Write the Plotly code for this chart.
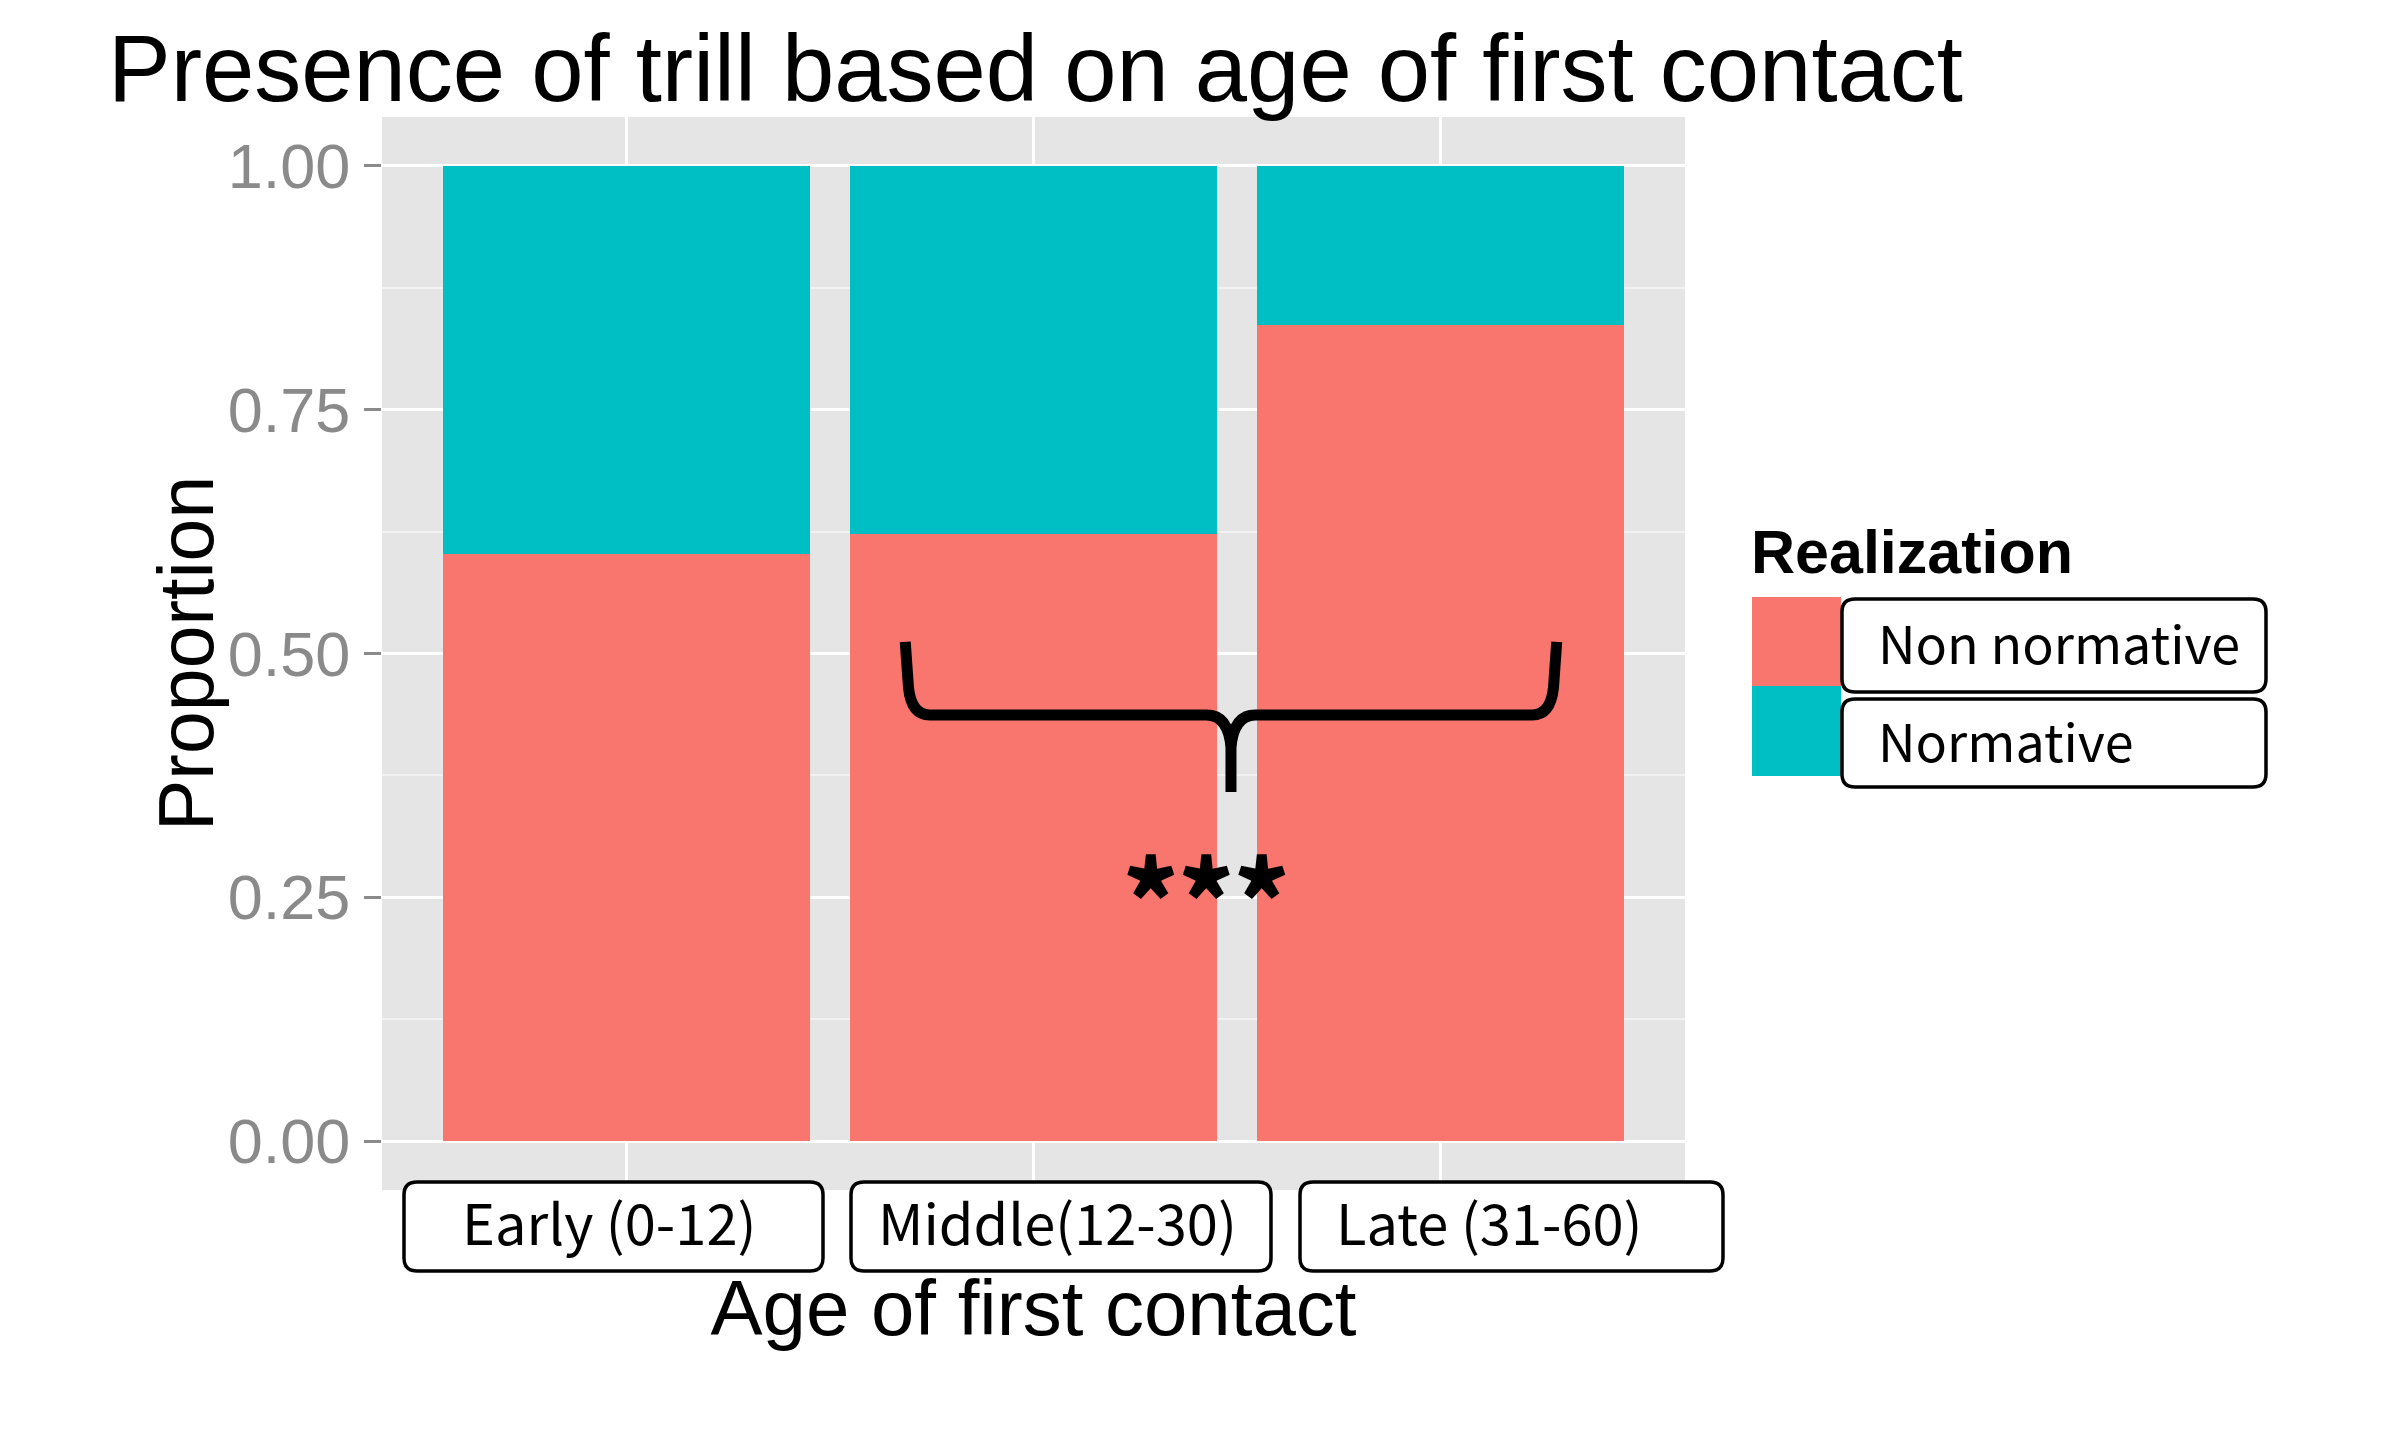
import plotly.graph_objects as go

# ---------------- data ----------------
CATEGORIES = ["Early (0-12)", "Middle(12-30)", "Late (31-60)"]
NON_NORMATIVE = [0.602, 0.623, 0.837]
NORMATIVE = [0.398, 0.377, 0.163]
SERIES_NAMES = ["Non normative", "Normative"]
Y_TICKS = [0.0, 0.25, 0.5, 0.75, 1.0]
Y_TICK_LABELS = ["0.00", "0.25", "0.50", "0.75", "1.00"]
Y_MINOR = [0.125, 0.375, 0.625, 0.875]

RED = "#F8766D"
TEAL = "#00BFC4"

W, H = 2396, 1433          # browser window
OFF = 8                    # default html body margin
FW, FH = W - 2 * OFF, H - 2 * OFF
PL, PR, PT, PB = 382, 1685, 117, 1190  # plot panel in screen pixels

MAIN_FONT = "Liberation Sans, Arial, sans-serif"
BOX_FONT = "Noto Sans CJK JP, Noto Sans, sans-serif"


def px_x(px):
    return (px - PL) / (PR - PL)


def px_y(py):
    return (PB - py) / (PB - PT)


def rrect_path(x0, y0, x1, y1, r):
    pts = [
        ("M", [(x0 + r, y0)]),
        ("L", [(x1 - r, y0)]),
        ("Q", [(x1, y0), (x1, y0 + r)]),
        ("L", [(x1, y1 - r)]),
        ("Q", [(x1, y1), (x1 - r, y1)]),
        ("L", [(x0 + r, y1)]),
        ("Q", [(x0, y1), (x0, y1 - r)]),
        ("L", [(x0, y0 + r)]),
        ("Q", [(x0, y0), (x0 + r, y0)]),
    ]
    s = ""
    for cmd, ps in pts:
        s += cmd + " " + " ".join(f"{px_x(a):.5f},{px_y(b):.5f}" for a, b in ps) + " "
    return s + "Z"


fig = go.Figure()
fig.add_trace(go.Bar(x=CATEGORIES, y=NON_NORMATIVE, name=SERIES_NAMES[0],
                     marker=dict(color=RED, line=dict(width=0)), showlegend=False))
fig.add_trace(go.Bar(x=CATEGORIES, y=NORMATIVE, name=SERIES_NAMES[1],
                     marker=dict(color=TEAL, line=dict(width=0)), showlegend=False))

shapes = []
annotations = []

# category label boxes (below panel)
CAT_BOXES = [(404, 823), (851, 1271), (1300, 1723)]
CAT_TEXT_X = [609, 1057, 1489]
for (bx0, bx1), tx, label in zip(CAT_BOXES, CAT_TEXT_X, CATEGORIES):
    shapes.append(dict(type="path", xref="paper", yref="paper",
                       path=rrect_path(bx0, 1182, bx1, 1271, 13),
                       line=dict(color="black", width=3.5), fillcolor="white", layer="above"))
    annotations.append(dict(text=label, xref="paper", yref="paper", x=px_x(tx), y=px_y(1220),
                            xanchor="center", yanchor="middle", showarrow=False,
                            font=dict(family=BOX_FONT, size=56, color="black")))

# y axis title
annotations.append(dict(text="Proportion", xref="paper", yref="paper", x=px_x(186), y=px_y(654),
                        xanchor="center", yanchor="middle", textangle=-90, showarrow=False,
                        font=dict(family=MAIN_FONT, size=77, color="black")))

# legend (manual)
annotations.append(dict(text="<b>Realization</b>", xref="paper", yref="paper",
                        x=px_x(1749), y=px_y(552), xanchor="left", yanchor="middle",
                        showarrow=False, font=dict(family=MAIN_FONT, size=61, color="black")))
KEY_Y = [(597, 686), (686, 776)]
LBL_BOX_Y = [(599, 692), (699, 787)]
for (ky0, ky1), (by0, by1), name, col in zip(KEY_Y, LBL_BOX_Y, SERIES_NAMES, [RED, TEAL]):
    shapes.append(dict(type="rect", xref="paper", yref="paper",
                       x0=px_x(1752), x1=px_x(1841), y0=px_y(ky1), y1=px_y(ky0),
                       fillcolor=col, line=dict(width=0), layer="above"))
    shapes.append(dict(type="path", xref="paper", yref="paper",
                       path=rrect_path(1842, by0, 2266, by1, 13),
                       line=dict(color="black", width=3.5), fillcolor="white", layer="above"))
    annotations.append(dict(text=name, xref="paper", yref="paper",
                            x=px_x(1876), y=px_y((by0 + by1) / 2 - 4), xanchor="left", yanchor="middle",
                            showarrow=False, font=dict(family=BOX_FONT, size=52, color="black")))

# significance brace (data coordinates: category index on x, proportion on y)
BX0, BX1, BXC = 0.685, 2.285, 1.485
BTOP, BMID, BTIP = 0.512, 0.437, 0.358
dx, dy = 0.06, 0.028
brace = (f"M {BX0},{BTOP} L {BX0+0.008},{BMID+dy} Q {BX0+0.015},{BMID} {BX0+dx},{BMID} "
         f"L {BXC-dx},{BMID} Q {BXC-0.006},{BMID} {BXC},{BMID-dy*1.2} L {BXC},{BTIP} "
         f"M {BXC},{BMID-dy*1.2} Q {BXC+0.006},{BMID} {BXC+dx},{BMID} "
         f"L {BX1-dx},{BMID} Q {BX1-0.015},{BMID} {BX1-0.008},{BMID+dy} L {BX1},{BTOP}")
shapes.append(dict(type="path", xref="x", yref="y", path=brace,
                   line=dict(color="black", width=11), layer="above"))
annotations.append(dict(text="***", xref="x", yref="y", x=1.424, y=0.253,
                        xanchor="center", yanchor="middle", showarrow=False,
                        font=dict(family=BOX_FONT, size=105, color="black", weight=900)))

fig.update_layout(
    width=FW, height=FH,
    margin=dict(l=PL - OFF, r=(W - OFF) - PR, t=PT - OFF, b=(H - OFF) - PB, autoexpand=False),
    paper_bgcolor="white", plot_bgcolor="#E5E5E5",
    barmode="stack", bargap=0.1,
    title=dict(text="Presence of trill based on age of first contact",
               xref="container", yref="container", x=(108 - OFF) / FW, xanchor="left",
               y=1 - (68 - OFF) / FH, yanchor="middle",
               font=dict(family=MAIN_FONT, size=94, color="black")),
    shapes=shapes, annotations=annotations,
    font=dict(family=MAIN_FONT),
)
fig.update_xaxes(
    range=[-0.6, 2.6], showgrid=True, gridcolor="white", gridwidth=3,
    showticklabels=False, ticks="", showline=False, zeroline=False,
    title=dict(text="Age of first contact", standoff=90,
               font=dict(family=MAIN_FONT, size=78, color="black")),
)
fig.update_yaxes(
    range=[-0.05, 1.05], tickvals=Y_TICKS, ticktext=Y_TICK_LABELS,
    showgrid=True, gridcolor="white", gridwidth=3, zeroline=False, showline=False,
    ticks="outside", ticklen=17, tickwidth=3, tickcolor="#8A8A8A",
    ticklabelstandoff=1,
    tickfont=dict(family=MAIN_FONT, size=63, color="#8A8A8A"),
    minor=dict(tickvals=Y_MINOR, showgrid=True, gridcolor="#F2F2F2", gridwidth=1.5, ticks=""),
)

fig.write_html("out.html")
